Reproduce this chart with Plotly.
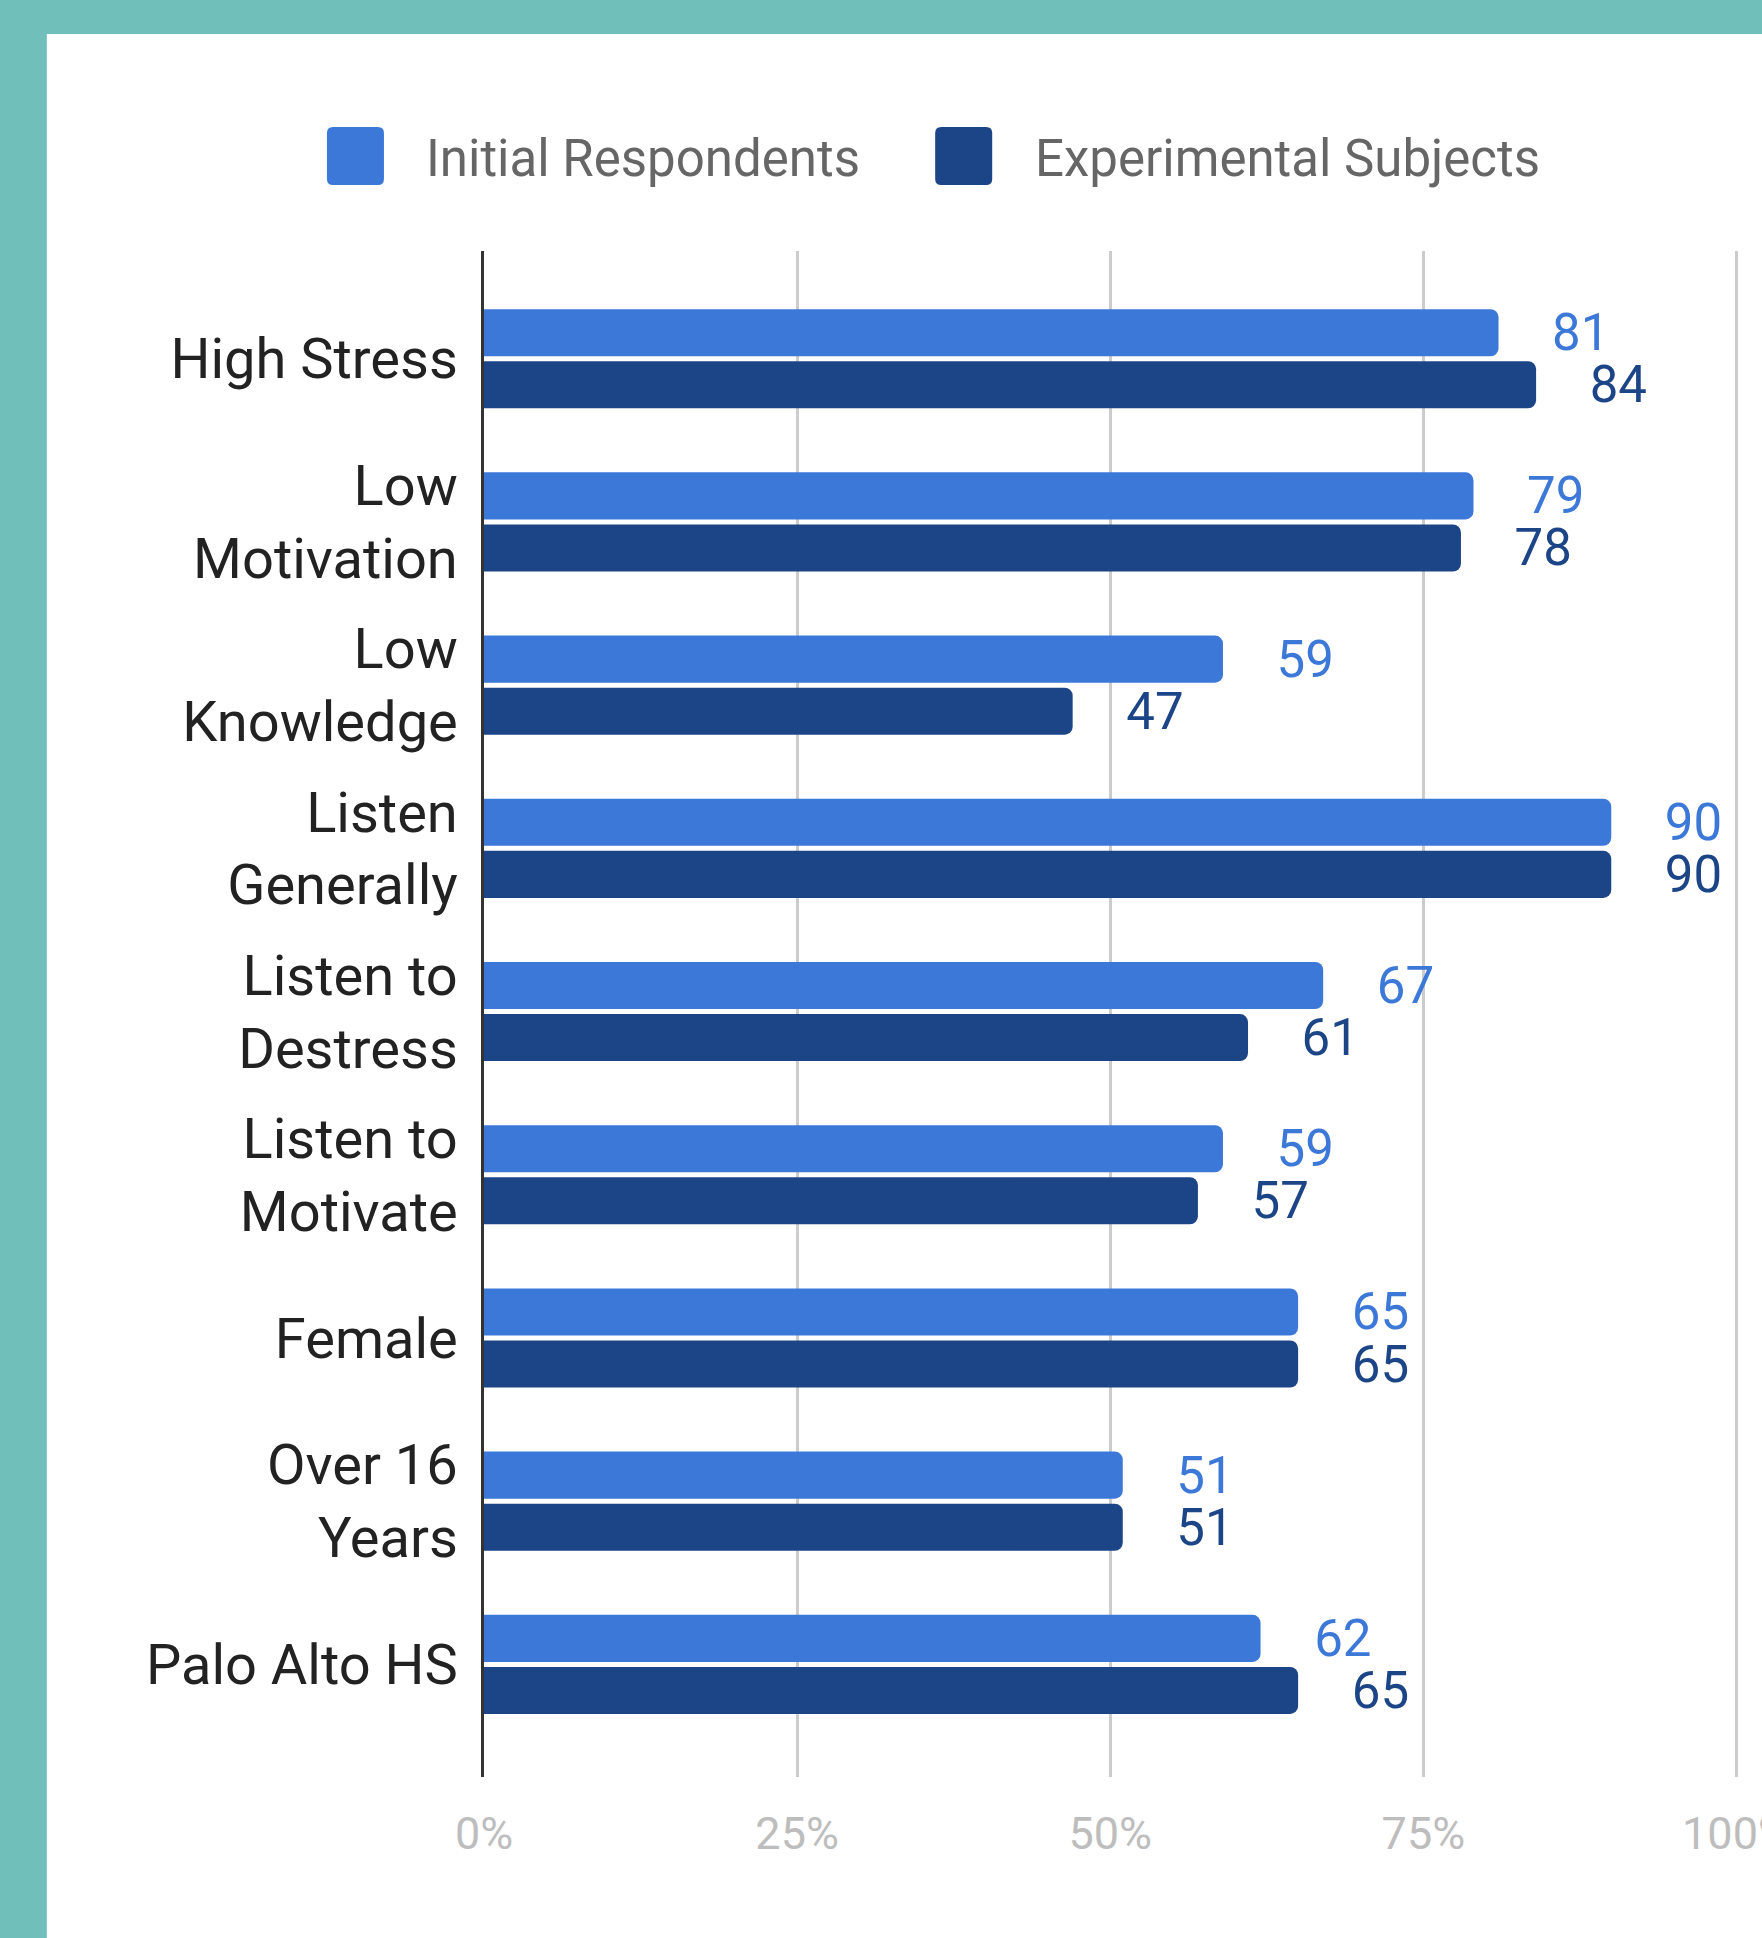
import plotly.graph_objects as go

# Survey profile: share of each group (percent)
categories = [
    "High Stress",
    "Low<br>Motivation",
    "Low<br>Knowledge",
    "Listen<br>Generally",
    "Listen to<br>Destress",
    "Listen to<br>Motivate",
    "Female",
    "Over 16<br>Years",
    "Palo Alto HS",
]
series_names = ["Initial Respondents", "Experimental Subjects"]
initial_respondents = [81, 79, 59, 90, 67, 59, 65, 51, 62]
experimental_subjects = [84, 78, 47, 90, 61, 57, 65, 51, 65]
x_tick_values = [0, 25, 50, 75, 100]
x_tick_labels = ["0%", "25%", "50%", "75%", "100%"]

LIGHT = "#3C78D8"
DARK = "#1C4587"
TEAL = "#71BFBA"
FONT = "Roboto"

X_MAX = 100.2  # a hair past 100 so the last gridline is drawn

W, H = 1762, 1938
ML, MT, MB = 484, 251, 161
PW = 1252 * X_MAX / 100
MR = W - ML - PW
PH = H - MT - MB


def px_x(px):
    return (px - ML) / PW


def px_y(py):
    return 1 - (py - MT) / PH


fig = go.Figure()
pad = "\u00a0" * 4
for name, vals, col in [
    (series_names[0], initial_respondents, LIGHT),
    (series_names[1], experimental_subjects, DARK),
]:
    fig.add_trace(go.Bar(
        name=name,
        y=categories,
        x=vals,
        orientation="h",
        marker=dict(color=col, line=dict(width=0), cornerradius=8),
        text=[str(v) for v in vals],
        texttemplate=pad + "%{text}",
        textposition="outside",
        constraintext="none",
        cliponaxis=False,
        textfont=dict(family=FONT, size=51, color=col),
        showlegend=False,
    ))

shapes = [
    # white card over the teal frame
    dict(type="rect", xref="paper", yref="paper", layer="below",
         x0=px_x(47), x1=px_x(W + 10), y0=px_y(H + 10), y1=px_y(34),
         fillcolor="white", line=dict(width=0)),
]


def rounded_square(x0, y0, x1, y1, r):
    X0, X1 = px_x(x0), px_x(x1)
    Y0, Y1 = px_y(y0), px_y(y1)
    rx, ry = r / PW, r / PH
    return (f"M{X0 + rx},{Y0} L{X1 - rx},{Y0} Q{X1},{Y0} {X1},{Y0 - ry} "
            f"L{X1},{Y1 + ry} Q{X1},{Y1} {X1 - rx},{Y1} L{X0 + rx},{Y1} "
            f"Q{X0},{Y1} {X0},{Y1 + ry} L{X0},{Y0 - ry} Q{X0},{Y0} {X0 + rx},{Y0} Z")


annotations = []
legend_items = [(series_names[0], LIGHT, 327, 424), (series_names[1], DARK, 935, 1033)]
for name, col, sq_x, tx_x in legend_items:
    shapes.append(dict(type="path", xref="paper", yref="paper",
                       path=rounded_square(sq_x, 127, sq_x + 57, 185, 6),
                       fillcolor=col, line=dict(width=0)))
    annotations.append(dict(
        xref="paper", yref="paper", x=px_x(tx_x), y=px_y(158),
        xanchor="left", yanchor="middle", showarrow=False, text=name,
        font=dict(family=FONT, size=51, color="#666666"),
    ))

fig.update_layout(
    width=W, height=H,
    margin=dict(l=ML, r=MR, t=MT, b=MB, pad=0, autoexpand=False),
    paper_bgcolor=TEAL,
    plot_bgcolor="white",
    barmode="group",
    bargap=0.362,
    bargroupgap=0.096,
    shapes=shapes,
    annotations=annotations,
    xaxis=dict(
        range=[0, X_MAX],
        tickmode="array",
        tickvals=x_tick_values,
        ticktext=x_tick_labels,
        showgrid=True, gridcolor="#cccccc", gridwidth=3,
        zeroline=False, showline=False,
        ticks="", ticklabelstandoff=26,
        ticklabeloverflow="allow",
        automargin=False,
        tickfont=dict(family=FONT, size=45, color="#bdbdbd"),
    ),
    yaxis=dict(
        type="category",
        categoryarray=categories,
        range=[8.69, -0.66],
        showgrid=False, zeroline=False,
        showline=True, linecolor="#333333", linewidth=3,
        ticks="", ticklabelstandoff=12,
        automargin=False,
        tickfont=dict(family=FONT, size=56, color="#222222"),
    ),
    font=dict(family=FONT),
)

fig.write_html("out.html")
